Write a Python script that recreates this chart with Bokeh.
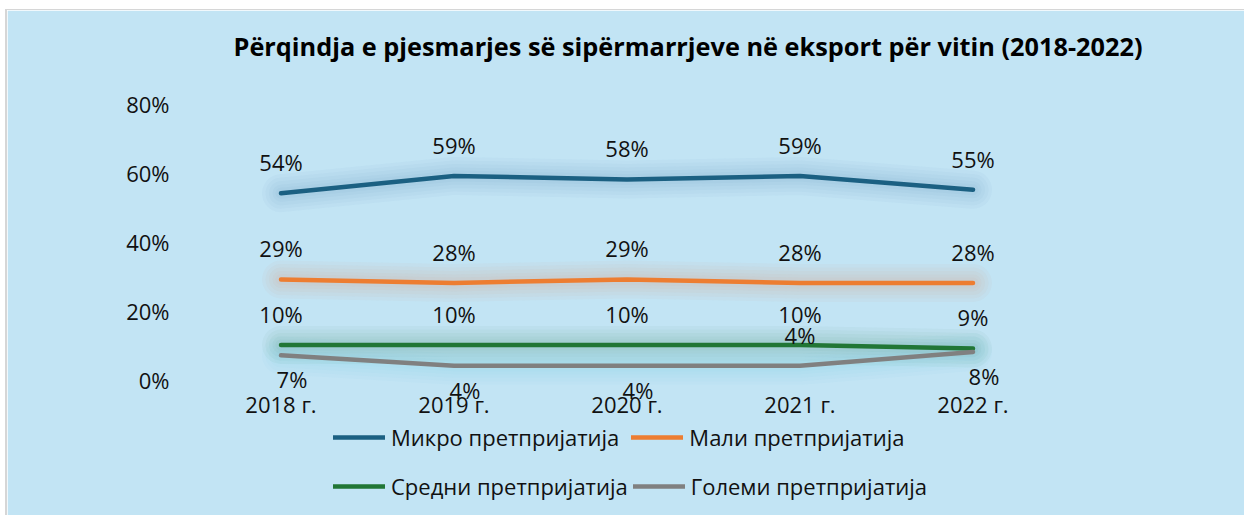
from bokeh.plotting import figure
from bokeh.models import (FactorRange, Range1d, Legend, LegendItem, FixedTicker,
                          PrintfTickFormatter, ColumnDataSource, LabelSet, Title)
from bokeh.core.properties import value
from bokeh.embed import file_html
from bokeh.resources import INLINE

# ---- data ----
years = ["2018 г.", "2019 г.", "2020 г.", "2021 г.", "2022 г."]
micro = [54, 59, 58, 59, 55]
mali = [29, 28, 29, 28, 28]
sredni = [10, 10, 10, 10, 9]
golemi = [7, 4, 4, 4, 8]
series_names = ["Микро претпријатија", "Мали претпријатија",
                "Средни претпријатија", "Големи претпријатија"]
y_ticks = [0, 20, 40, 60, 80]
title_text = "Përqindja e pjesmarjes së sipërmarrjeve në eksport për vitin (2018-2022)"

# ---- style ----
BG = "#C2E4F4"
FONT = "Open Sans"
TXT = "#111111"
colors = ["#1B6082", "#ED7D31", "#217635", "#808080"]
glows = ["#2F7FAD", "#ED7D31", "#217635", "#58C2EA"]
label_pos = [["above"] * 5, ["above"] * 5, ["above"] * 5,
             ["below", "below", "below", "above", "below"]]

# frame spans from the 80% line down to the bottom of the canvas
p = figure(frame_width=865, frame_height=412,
           x_range=FactorRange(*years, range_padding=0),
           y_range=Range1d(-39.42, 80), output_backend="svg", toolbar_location=None,
           min_border_left=187, min_border_right=185, min_border_top=93,
           min_border_bottom=0)
p.styles = {"margin-left": "5px", "margin-top": "9px",
            "border-left": "2px solid #D6D6D6", "border-top": "1px solid #D6D6D6"}
p.background_fill_color = BG
p.border_fill_color = BG
p.outline_line_color = BG
p.outline_line_width = 2
p.grid.grid_line_color = None

spacer = Title(text=" ", text_font=FONT, text_font_size="18px", standoff=0,
               text_color=BG)
p.add_layout(spacer, "above")
p.add_layout(Title(text=title_text, align="left", offset=39, text_font=FONT,
                   text_font_size="25.3px", text_font_style="bold",
                   text_color="#000000", standoff=30), "above")

for ax in (p.xaxis[0], p.yaxis[0]):
    ax.axis_line_color = None
    ax.major_tick_line_color = None
    ax.minor_tick_line_color = None
    ax.major_tick_out = 0
    ax.major_tick_in = 0
    ax.major_label_text_font = FONT
    ax.major_label_text_font_size = "22px"
    ax.major_label_text_color = TXT
p.yaxis.ticker = FixedTicker(ticks=y_ticks)
p.yaxis.formatter = PrintfTickFormatter(format="%d%%")
p.yaxis.major_label_standoff = 25
p.xaxis.major_label_standoff = -127

all_series = [micro, mali, sredni, golemi]
renderers = []
for vals, col, gl in zip(all_series, colors, glows):
    for w in (38, 31, 24, 17, 11):
        p.line(years, vals, line_width=w, line_color=gl, line_alpha=0.035,
               line_cap="round", line_join="round")
for vals, col in zip(all_series, colors):
    r = p.line(years, vals, line_width=4.5, line_color=col, line_cap="round",
               line_join="round")
    renderers.append(r)

for vals, pos in zip(all_series, label_pos):
    for where in ("above", "below"):
        xs = [y for y, ps in zip(years, pos) if ps == where]
        vs = [v for v, ps in zip(vals, pos) if ps == where]
        if not xs:
            continue
        src = ColumnDataSource(dict(x=xs, y=vs, t=[f"{v}%" for v in vs]))
        if where == "above":
            ls = LabelSet(x="x", y="y", text="t", source=src, y_offset=31,
                          text_align="center", text_baseline="middle",
                          text_font=value(FONT), text_font_size="22px", text_color=TXT)
        else:
            ls = LabelSet(x="x", y="y", text="t", source=src, y_offset=-24, x_offset=11,
                          text_align="center", text_baseline="middle",
                          text_font=value(FONT), text_font_size="22px", text_color=TXT)
        p.add_layout(ls)

leg_style = dict(orientation="horizontal", label_text_font=FONT,
                 label_text_font_size="22px", label_text_color=TXT,
                 glyph_width=52, glyph_height=30, label_height=30,
                 label_standoff=6, padding=0, margin=0,
                 border_line_color=None, background_fill_alpha=0)
leg1 = Legend(items=[LegendItem(label=series_names[0], renderers=[renderers[0]]),
                     LegendItem(label=series_names[1], renderers=[renderers[1]])],
              spacing=12, location=(139, 63), **leg_style)
leg2 = Legend(items=[LegendItem(label=series_names[2], renderers=[renderers[2]]),
                     LegendItem(label=series_names[3], renderers=[renderers[3]])],
              spacing=5, location=(139, 14), **leg_style)
p.add_layout(leg1)
p.add_layout(leg2)

open("out.html", "w").write(file_html(p, INLINE))
